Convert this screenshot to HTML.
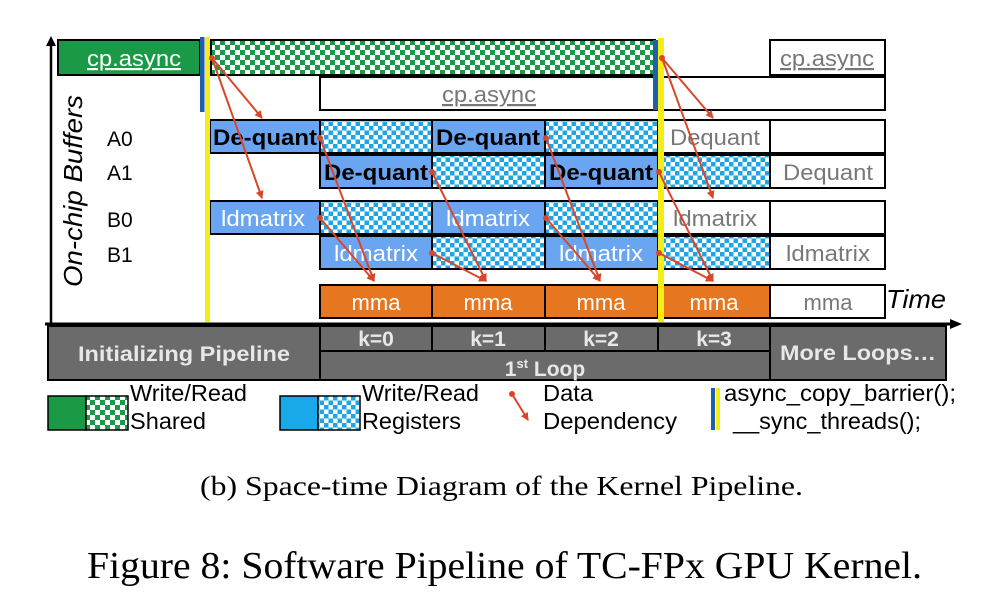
<!DOCTYPE html>
<html><head><meta charset="utf-8"><style>
html,body{margin:0;padding:0;background:#fff;width:988px;height:598px;overflow:hidden}
svg{display:block}
.b{font-family:"Liberation Sans",Arial,sans-serif}
</style></head><body>
<svg width="988" height="598" viewBox="0 0 988 598" xmlns="http://www.w3.org/2000/svg" class="b">
<defs>
<pattern id="gc" width="10" height="10" patternUnits="userSpaceOnUse">
<rect width="10" height="10" fill="#fff"/><rect width="5" height="5" fill="#1a9a46"/><rect x="5" y="5" width="5" height="5" fill="#1a9a46"/></pattern>
<pattern id="bc" width="9" height="9" patternUnits="userSpaceOnUse">
<rect width="9" height="9" fill="#fff"/><rect width="4.5" height="4.5" fill="#1ea5e6"/><rect x="4.5" y="4.5" width="4.5" height="4.5" fill="#1ea5e6"/></pattern>
<marker id="ah" markerWidth="8" markerHeight="8" refX="7" refY="4" orient="auto" markerUnits="userSpaceOnUse"><path d="M0,0 L8,4 L0,8 z" fill="#d9472b"/></marker>
</defs>
<line x1="51" y1="325" x2="51" y2="42" stroke="#000" stroke-width="2.5"/>
<path d="M46,46 L51,36 L56,46 z" fill="#000"/>
<line x1="45" y1="324" x2="955" y2="324" stroke="#000" stroke-width="3"/>
<path d="M950,319 L962,324 L950,329 z" fill="#000"/>
<text transform="translate(82,287) rotate(-90)" font-size="26" font-style="italic" textLength="192" lengthAdjust="spacingAndGlyphs">On-chip Buffers</text>
<g font-size="21"><text x="107" y="146">A0</text><text x="107" y="180">A1</text><text x="107" y="227">B0</text><text x="107" y="262">B1</text></g>
<g stroke="#000" stroke-width="2">
<rect x="58" y="40" width="142" height="35" fill="#1a9a46"/>
<rect x="211" y="40" width="444" height="35" fill="url(#gc)"/>
<rect x="770" y="40" width="115" height="35" fill="#fff"/>
<rect x="320" y="77" width="565" height="33" fill="#fff"/>
<rect x="210" y="120" width="110" height="33" fill="#6aa5f2"/>
<rect x="320" y="120" width="112" height="33" fill="url(#bc)"/>
<rect x="432" y="120" width="113" height="33" fill="#6aa5f2"/>
<rect x="545" y="120" width="113" height="33" fill="url(#bc)"/>
<rect x="658" y="120" width="112" height="33" fill="#fff"/>
<rect x="770" y="120" width="115" height="33" fill="#fff"/>
<rect x="320" y="155" width="112" height="33" fill="#6aa5f2"/>
<rect x="432" y="155" width="113" height="33" fill="url(#bc)"/>
<rect x="545" y="155" width="113" height="33" fill="#6aa5f2"/>
<rect x="658" y="155" width="112" height="33" fill="url(#bc)"/>
<rect x="770" y="155" width="115" height="33" fill="#fff"/>
<rect x="210" y="201" width="110" height="33" fill="#6aa5f2"/>
<rect x="320" y="201" width="112" height="33" fill="url(#bc)"/>
<rect x="432" y="201" width="113" height="33" fill="#6aa5f2"/>
<rect x="545" y="201" width="113" height="33" fill="url(#bc)"/>
<rect x="658" y="201" width="112" height="33" fill="#fff"/>
<rect x="770" y="201" width="115" height="33" fill="#fff"/>
<rect x="320" y="236" width="112" height="33" fill="#6aa5f2"/>
<rect x="432" y="236" width="113" height="33" fill="url(#bc)"/>
<rect x="545" y="236" width="113" height="33" fill="#6aa5f2"/>
<rect x="658" y="236" width="112" height="33" fill="url(#bc)"/>
<rect x="770" y="236" width="115" height="33" fill="#fff"/>
<rect x="320" y="285" width="112" height="33" fill="#e6761f"/>
<rect x="432" y="285" width="113" height="33" fill="#e6761f"/>
<rect x="545" y="285" width="113" height="33" fill="#e6761f"/>
<rect x="658" y="285" width="112" height="33" fill="#e6761f"/>
<rect x="770" y="285" width="115" height="33" fill="#fff"/>
<rect x="48" y="326" width="272" height="54" fill="#6b6b6b"/>
<rect x="320" y="326" width="112" height="25" fill="#6b6b6b"/>
<rect x="432" y="326" width="113" height="25" fill="#6b6b6b"/>
<rect x="545" y="326" width="113" height="25" fill="#6b6b6b"/>
<rect x="658" y="326" width="112" height="25" fill="#6b6b6b"/>
<rect x="320" y="351" width="450" height="29" fill="#6b6b6b"/>
<rect x="770" y="326" width="176" height="54" fill="#6b6b6b"/>
</g>
<g font-size="22" text-anchor="middle">
<text x="134" y="66" fill="#fff" text-decoration="underline" textLength="94" lengthAdjust="spacingAndGlyphs">cp.async</text>
<text x="827" y="66" fill="#777" text-decoration="underline" textLength="94" lengthAdjust="spacingAndGlyphs">cp.async</text>
<text x="489" y="102" fill="#777" text-decoration="underline" textLength="94" lengthAdjust="spacingAndGlyphs">cp.async</text>
<g font-weight="bold" fill="#000">
<text x="265" y="145" textLength="104" lengthAdjust="spacingAndGlyphs">De-quant</text><text x="488" y="145" textLength="104" lengthAdjust="spacingAndGlyphs">De-quant</text>
<text x="376" y="180" textLength="104" lengthAdjust="spacingAndGlyphs">De-quant</text><text x="601" y="180" textLength="104" lengthAdjust="spacingAndGlyphs">De-quant</text></g>
<text x="715" y="145" fill="#777" textLength="90" lengthAdjust="spacingAndGlyphs">Dequant</text>
<text x="828" y="180" fill="#777" textLength="90" lengthAdjust="spacingAndGlyphs">Dequant</text>
<g fill="#fff"><text x="263" y="226" textLength="84" lengthAdjust="spacingAndGlyphs">ldmatrix</text><text x="488" y="226" textLength="84" lengthAdjust="spacingAndGlyphs">ldmatrix</text>
<text x="376" y="261" textLength="84" lengthAdjust="spacingAndGlyphs">ldmatrix</text><text x="601" y="261" textLength="84" lengthAdjust="spacingAndGlyphs">ldmatrix</text>
<text x="376" y="310">mma</text><text x="488" y="310">mma</text><text x="601" y="310">mma</text><text x="714" y="310">mma</text></g>
<text x="715" y="226" fill="#777" textLength="84" lengthAdjust="spacingAndGlyphs">ldmatrix</text>
<text x="828" y="261" fill="#777" textLength="84" lengthAdjust="spacingAndGlyphs">ldmatrix</text>
<text x="828" y="310" fill="#777">mma</text>
</g>
<text x="886" y="308" font-size="26" font-style="italic" textLength="60" lengthAdjust="spacingAndGlyphs">Time</text>
<g font-size="21" font-weight="bold" fill="#e8e8e8" text-anchor="middle">
<text x="184" y="361" textLength="212" lengthAdjust="spacingAndGlyphs">Initializing Pipeline</text>
<text x="376" y="346">k=0</text><text x="488" y="346">k=1</text><text x="601" y="346">k=2</text><text x="714" y="346">k=3</text>
<text x="545" y="376">1<tspan font-size="13" dy="-8">st</tspan><tspan dy="8"> Loop</tspan></text>
<text x="858" y="360" textLength="156" lengthAdjust="spacingAndGlyphs">More Loops…</text>
</g>
<rect x="200" y="37" width="4.5" height="75" fill="#1f5fae"/>
<rect x="205" y="37" width="5" height="285" fill="#f5ee16"/>
<rect x="653" y="40" width="5" height="70" fill="#1f5fae"/>
<rect x="658" y="38" width="6" height="284" fill="#f5ee16"/>
<g stroke="#d9472b" stroke-width="2" fill="none" marker-end="url(#ah)">
<line x1="212" y1="58" x2="262" y2="118"/><line x1="212" y1="58" x2="262" y2="198"/>
<line x1="320" y1="138" x2="374" y2="281"/><line x1="320" y1="218" x2="374" y2="281"/>
<line x1="432" y1="172" x2="486" y2="281"/><line x1="432" y1="253" x2="486" y2="281"/>
<line x1="546" y1="138" x2="600" y2="281"/><line x1="546" y1="218" x2="600" y2="281"/>
<line x1="659" y1="172" x2="713" y2="281"/><line x1="659" y1="253" x2="713" y2="281"/>
<line x1="662" y1="58" x2="713" y2="118"/><line x1="662" y1="58" x2="713" y2="198"/>
</g>
<g fill="#d9472b">
<circle cx="212" cy="58" r="3"/><circle cx="320" cy="138" r="3"/><circle cx="320" cy="218" r="3"/>
<circle cx="432" cy="172" r="3"/><circle cx="432" cy="253" r="3"/><circle cx="546" cy="138" r="3"/>
<circle cx="546" cy="218" r="3"/><circle cx="659" cy="172" r="3"/><circle cx="659" cy="253" r="3"/><circle cx="662" cy="58" r="3"/>
</g>
<g stroke="#000" stroke-width="1.5">
<rect x="48" y="396" width="38" height="34" fill="#1a9a46"/><rect x="86" y="396" width="42" height="34" fill="url(#gc)"/>
<rect x="280" y="396" width="38" height="34" fill="#19a8ea"/><rect x="318" y="396" width="42" height="34" fill="url(#bc)"/>
</g>
<g font-size="23">
<text x="130" y="401" textLength="117" lengthAdjust="spacingAndGlyphs">Write/Read</text><text x="130" y="429" textLength="76" lengthAdjust="spacingAndGlyphs">Shared</text>
<text x="362" y="401" textLength="117" lengthAdjust="spacingAndGlyphs">Write/Read</text><text x="362" y="429" textLength="99" lengthAdjust="spacingAndGlyphs">Registers</text>
<text x="543" y="401" textLength="50" lengthAdjust="spacingAndGlyphs">Data</text><text x="543" y="429" textLength="134" lengthAdjust="spacingAndGlyphs">Dependency</text>
<text x="724" y="401" textLength="232" lengthAdjust="spacingAndGlyphs">async_copy_barrier();</text><text x="733" y="429" textLength="188" lengthAdjust="spacingAndGlyphs">__sync_threads();</text>
</g>
<line x1="512" y1="394" x2="528" y2="420" stroke="#d9472b" stroke-width="2" marker-end="url(#ah)"/>
<circle cx="512" cy="394" r="3" fill="#d9472b"/>
<rect x="711" y="388" width="4" height="42" fill="#1f5fae"/>
<rect x="716" y="388" width="4" height="42" fill="#f5ee16"/>
<text x="200" y="495" font-family="'Liberation Serif',serif" font-size="27" textLength="603" lengthAdjust="spacingAndGlyphs">(b) Space-time Diagram of the Kernel Pipeline.</text>
<text x="87" y="578" font-family="'Liberation Serif',serif" font-size="38" textLength="835" lengthAdjust="spacingAndGlyphs">Figure 8: Software Pipeline of TC-FPx GPU Kernel.</text>
</svg>
</body></html>
